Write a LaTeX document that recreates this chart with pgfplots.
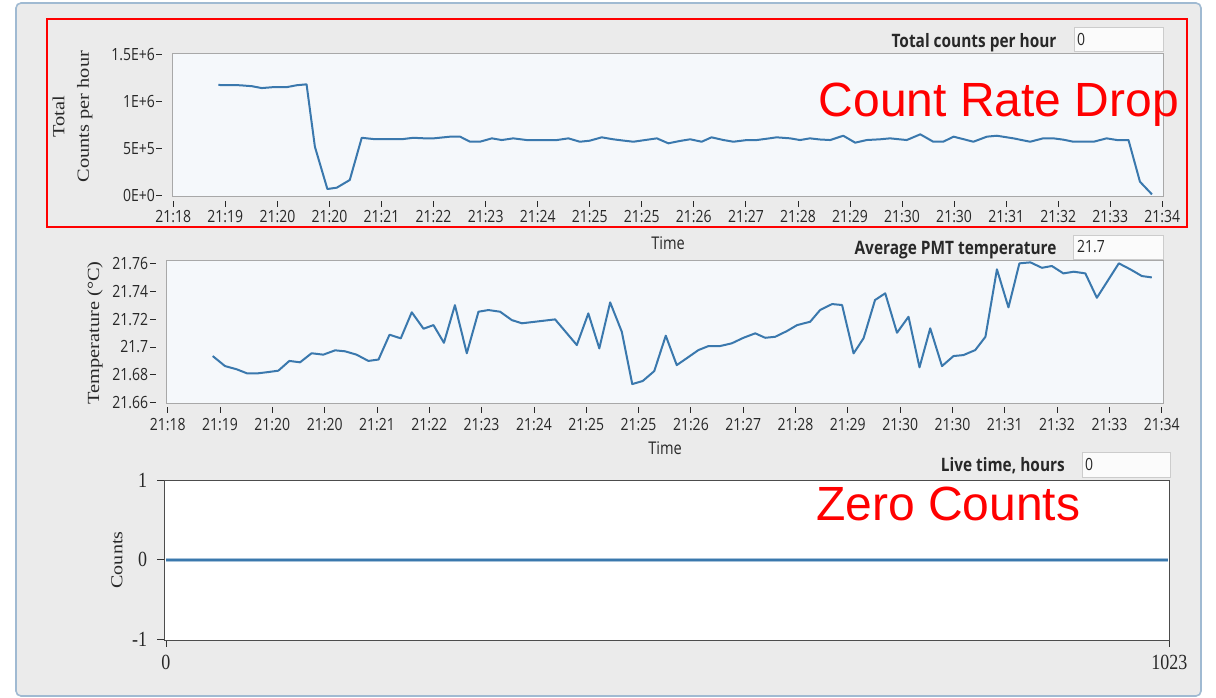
\documentclass[border=0pt]{standalone}
\usepackage{pgfplots}
\pgfplotsset{compat=1.18}
\usepackage{fontspec}
\setmainfont{Liberation Serif}
\newfontfamily\uiS[FakeStretch=0.8333]{Open Sans}
\newfontfamily\serS[FakeStretch=0.8333]{Liberation Serif}
\newfontfamily\serW[FakeStretch=1.2]{Liberation Serif}
\newfontfamily\arialf{Liberation Sans}
\definecolor{lvline}{RGB}{58,120,173}
\definecolor{plotbg}{RGB}{245,248,251}
\definecolor{panelbg}{RGB}{235,235,235}
\definecolor{framec}{RGB}{160,186,210}
\definecolor{boxgray}{RGB}{168,168,168}
\definecolor{txt}{RGB}{40,40,40}

\pgfplotstableread{
u v
0.865 1173000
1.28 1170000
1.51 1160000
1.70 1140000
1.92 1150000
2.18 1150000
2.37 1170000
2.56 1180000
2.72 515000
2.96 64000
3.14 78000
3.39 160000
3.62 610000
3.84 597000
4.10 597000
4.42 597000
4.61 610000
4.80 605000
5.00 604000
5.32 622000
5.51 622000
5.70 568000
5.89 568000
6.12 604000
6.31 586000
6.53 604000
6.79 586000
7.10 586000
7.37 586000
7.59 604000
7.81 568000
8.00 579000
8.23 615000
8.45 594000
8.65 580000
8.84 568000
9.05 585000
9.29 604000
9.51 551000
9.73 576000
9.93 594000
10.15 568000
10.34 615000
10.57 586000
10.76 568000
11.02 586000
11.21 586000
11.40 600000
11.59 615000
11.85 604000
12.04 586000
12.23 604000
12.42 592000
12.62 586000
12.87 632000
13.10 558000
13.32 586000
13.58 594000
13.77 604000
14.09 586000
14.35 647000
14.60 568000
14.79 568000
14.99 622000
15.18 595000
15.37 568000
15.63 622000
15.82 632000
16.14 604000
16.46 568000
16.71 604000
16.91 604000
17.10 590000
17.29 568000
17.68 568000
17.93 604000
18.13 586000
18.35 586000
18.57 142000
18.80 7000
}\countdata

\pgfplotstableread{
u v
0.860 21.6935
1.096 21.6863
1.319 21.684
1.522 21.681
1.70 21.681
1.92 21.682
2.115 21.683
2.325 21.690
2.53 21.689
2.75 21.6955
2.975 21.6945
3.20 21.6976
3.39 21.6969
3.61 21.6945
3.835 21.690
4.03 21.691
4.24 21.7088
4.455 21.7062
4.665 21.7249
4.89 21.7131
5.08 21.7157
5.28 21.703
5.49 21.730
5.717 21.6955
5.94 21.7253
6.13 21.7265
6.354 21.7253
6.577 21.7193
6.77 21.717
7.02 21.7181
7.405 21.7198
7.82 21.7014
8.04 21.7241
8.25 21.699
8.457 21.732
8.68 21.7109
8.88 21.6734
9.08 21.6756
9.30 21.6827
9.52 21.7081
9.73 21.687
9.92 21.6919
10.145 21.6978
10.34 21.7007
10.56 21.7007
10.78 21.7026
11.005 21.7066
11.23 21.7098
11.42 21.7066
11.61 21.7073
11.835 21.7114
12.03 21.7157
12.28 21.7181
12.47 21.7265
12.70 21.7308
12.89 21.7301
13.11 21.6954
13.30 21.7062
13.52 21.7337
13.715 21.7385
13.94 21.7102
14.16 21.7217
14.37 21.6854
14.575 21.7134
14.80 21.6863
15.02 21.6935
15.21 21.6942
15.436 21.6978
15.63 21.7073
15.85 21.7557
16.07 21.7284
16.28 21.760
16.49 21.7607
16.71 21.7568
16.90 21.7581
17.12 21.7528
17.32 21.754
17.54 21.7528
17.76 21.7353
18.18 21.760
18.40 21.7557
18.62 21.7509
18.81 21.7499
}\tempdata

\pgfplotsset{
  lvtime/.style={
    scale only axis,
    axis background/.style={fill=plotbg},
    axis line style={draw=boxgray, line width=1pt},
    tick align=inside,
    xtick pos=bottom, ytick pos=left,
    major tick length=6pt,
    xtick={0,...,19},
    xticklabels={21:18,21:19,21:20,21:20,21:21,21:22,21:23,21:24,21:25,21:25,21:26,21:27,21:28,21:29,21:30,21:30,21:31,21:32,21:33,21:34},
    tick label style={font=\uiS\fontsize{16.8}{19}\selectfont, text=txt, inner sep=0pt},
    xlabel={Time},
    xlabel style={font=\uiS\fontsize{17.5}{19}\selectfont, text=txt, anchor=center},
    ylabel style={font=\serW\fontsize{17}{24.5}\selectfont, text=txt, anchor=center, align=center},
    scaled y ticks=false,
  },
}

\begin{document}
\begin{tikzpicture}
\path[use as bounding box, fill=white] (0pt,0pt) rectangle (1216pt,-698pt);
\draw[framec, line width=1.6pt, fill=panelbg, rounded corners=5pt] (16pt,-3pt) rectangle (1201pt,-696pt);

% value boxes and headers
\draw[gray!40, fill=white!97!gray] (1074pt,-27.3pt) rectangle (1163.3pt,-51.7pt);
\node[anchor=west, inner sep=0pt, font=\uiS\fontsize{16.8}{19}\selectfont, text=txt] at (1077pt,-39.5pt) {0};
\node[anchor=east, inner sep=0pt, font=\uiS\bfseries\fontsize{18.5}{20}\selectfont, text=txt] at (1056.7pt,-42.3pt) {Total counts per hour};

\draw[gray!40, fill=white!97!gray] (1073.3pt,-235pt) rectangle (1163.3pt,-259.3pt);
\node[anchor=west, inner sep=0pt, font=\uiS\fontsize{16.8}{19}\selectfont, text=txt] at (1077pt,-246.5pt) {21.7};
\node[anchor=east, inner sep=0pt, font=\uiS\bfseries\fontsize{18.5}{20}\selectfont, text=txt] at (1056.7pt,-250pt) {Average PMT temperature};

\draw[gray!40, fill=white!97!gray] (1081.7pt,-451.7pt) rectangle (1170pt,-476.7pt);
\node[anchor=west, inner sep=0pt, font=\uiS\fontsize{16.8}{19}\selectfont, text=txt] at (1085pt,-464pt) {0};
\node[anchor=east, inner sep=0pt, font=\uiS\bfseries\fontsize{18.5}{20}\selectfont, text=txt] at (1065pt,-466pt) {Live time, hours};

% plot 1: counts per hour
\begin{axis}[lvtime,
  at={(172pt,-196.7pt)}, anchor=south west,
  width=991pt, height=143.4pt,
  xmin=-0.025, xmax=19.013,
  ymin=-18000, ymax=1510700,
  ytick={0,500000,1000000,1500000},
  yticklabels={0E+0,5E+5,1E+6,1.5E+6},
  xtick style={yshift=-10pt, draw=txt, line width=0.8pt},
  ytick style={xshift=-16pt, draw=txt, line width=0.8pt},
  xticklabel style={yshift=-13.3pt},
  yticklabel style={xshift=-17pt},
  xlabel style={at={(axis description cs:0.5005,-0.323)}},
  ylabel={Total\\Counts per hour},
  ylabel style={at={(axis description cs:-0.1004,0.559)}},
]
\addplot[lvline, line width=2pt, line join=round] table[x=u, y=v] {\countdata};
\end{axis}

% plot 2: temperature
\begin{axis}[lvtime,
  at={(166.7pt,-403.3pt)}, anchor=south west,
  width=996.6pt, height=142.6pt,
  xmin=-0.019, xmax=19.03,
  ymin=21.6596, ymax=21.7619,
  ytick={21.66,21.68,21.70,21.72,21.74,21.76},
  yticklabels={21.66,21.68,21.7,21.72,21.74,21.76},
  xtick style={yshift=-9.5pt, draw=txt, line width=0.8pt},
  ytick style={xshift=-16.5pt, draw=txt, line width=0.8pt},
  xticklabel style={yshift=-15pt},
  yticklabel style={xshift=-18.4pt},
  xlabel style={at={(axis description cs:0.5,-0.3156)}},
  ylabel={Temperature (°C)},
  ylabel style={at={(axis description cs:-0.0719,0.493)}},
]
\addplot[lvline, line width=2pt, line join=round] table[x=u, y=v] {\tempdata};
\end{axis}

% plot 3: counts
\begin{axis}[
  scale only axis,
  at={(164.3pt,-640pt)}, anchor=south west,
  width=1005.7pt, height=160pt,
  xmin=-1.73, xmax=1023.7,
  ymin=-1.013, ymax=1.009,
  axis background/.style={fill=white},
  axis line style={draw=black!70, line width=1pt},
  tick align=inside, xtick pos=bottom, ytick pos=left,
  major tick length=6.5pt,
  xtick={0,1023}, xticklabels={0,1023},
  ytick={-1,0,1}, yticklabels={-1,0,1},
  xtick style={yshift=-6.5pt, draw=black!80, line width=0.8pt},
  ytick style={xshift=-7pt, draw=black!80, line width=0.8pt},
  tick label style={font=\serS\fontsize{21.6}{24}\selectfont, text=txt, inner sep=0pt},
  xticklabel style={yshift=-15pt},
  yticklabel style={xshift=-17pt},
  ylabel={Counts},
  ylabel style={font=\serW\fontsize{16.7}{24}\selectfont, text=txt, anchor=center, at={(axis description cs:-0.047,0.5)}},
]
\addplot[lvline!45, line width=3.4pt] coordinates {(0,0) (1022,0)};
\addplot[lvline, line width=1.8pt] coordinates {(0,0) (1022,0)};
\end{axis}

% annotations
\draw[red, line width=2.3pt] (47.3pt,-19.3pt) rectangle (1187.3pt,-226.7pt);
\node[anchor=base west, inner sep=0pt, text=red, font=\arialf\fontsize{48}{50}\selectfont] at (818.5pt,-116.7pt) {Count Rate Drop};
\node[anchor=base west, inner sep=0pt, text=red, font=\arialf\fontsize{48}{50}\selectfont] at (816pt,-520.7pt) {Zero Counts};
\end{tikzpicture}
\end{document}
